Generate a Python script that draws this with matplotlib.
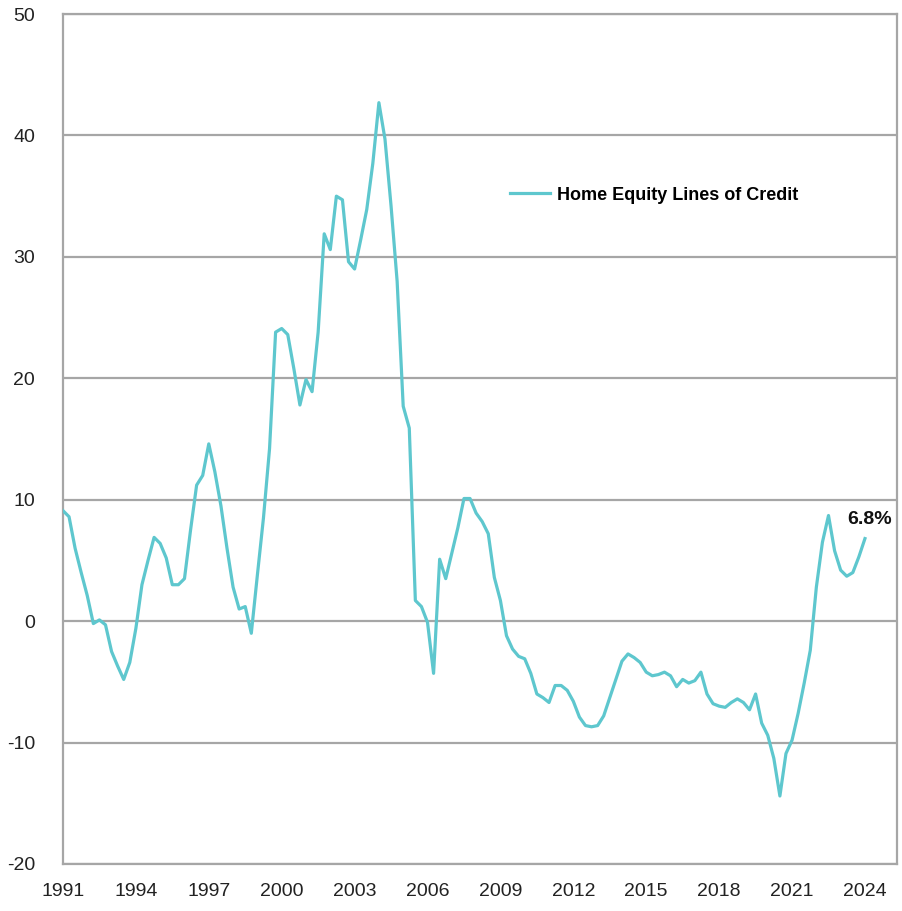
import numpy as np
import matplotlib
matplotlib.use("Agg")
import matplotlib.pyplot as plt

plt.rcParams['font.family'] = ['Liberation Sans Narrow', 'Liberation Sans', 'DejaVu Sans']

start_year = 1991.0
values = [
    9.1, 8.6, 6.0, 4.0,        # 1991
    2.1, -0.2, 0.1, -0.3,      # 1992
    -2.5, -3.7, -4.8, -3.4,    # 1993
    -0.6, 3.0, 5.0, 6.9,       # 1994
    6.4, 5.2, 3.0, 3.0,        # 1995
    3.5, 7.5, 11.2, 12.0,      # 1996
    14.6, 12.3, 9.5, 6.0,      # 1997
    2.8, 1.0, 1.2, -1.0,       # 1998
    3.8, 8.5, 14.2, 23.8,      # 1999
    24.1, 23.6, 20.8, 17.8,    # 2000
    19.9, 18.9, 23.8, 31.9,    # 2001
    30.6, 35.0, 34.7, 29.6,    # 2002
    29.0, 31.4, 33.9, 37.7,    # 2003
    42.7, 39.7, 34.2, 28.0,    # 2004
    17.7, 15.9, 1.7, 1.2,      # 2005
    -0.1, -4.3, 5.1, 3.5,      # 2006
    5.6, 7.7, 10.1, 10.1,      # 2007
    8.9, 8.2, 7.2, 3.6,        # 2008
    1.7, -1.2, -2.3, -2.9,     # 2009
    -3.1, -4.3, -6.0, -6.3,    # 2010
    -6.7, -5.3, -5.3, -5.7,    # 2011
    -6.6, -7.9, -8.6, -8.7,    # 2012
    -8.6, -7.8, -6.3, -4.8,    # 2013
    -3.3, -2.7, -3.0, -3.4,    # 2014
    -4.2, -4.5, -4.4, -4.2,    # 2015
    -4.5, -5.4, -4.8, -5.1,    # 2016
    -4.9, -4.2, -6.0, -6.8,    # 2017
    -7.0, -7.1, -6.7, -6.4,    # 2018
    -6.7, -7.3, -6.0, -8.4,    # 2019
    -9.4, -11.3, -14.4, -10.9, # 2020
    -9.8, -7.6, -5.1, -2.4,    # 2021
    2.8, 6.5, 8.7, 5.8,        # 2022
    4.2, 3.7, 4.0, 5.3,        # 2023
    6.8,                       # 2024
]
series_label = "Home Equity Lines of Credit"
last_label = "6.8%"
x_ticks = list(range(1991, 2025, 3))
y_ticks = [-20, -10, 0, 10, 20, 30, 40, 50]

dates = start_year + 0.25 * np.arange(len(values))

fig = plt.figure(figsize=(9.02, 9.11), dpi=100)
ax = fig.add_axes([0.0698, 0.0516, 0.9247, 0.933])

line_color = '#5EC7CE'
grid_color = '#A6A6A6'

ax.plot(dates, values, color=line_color, lw=2.3, label=series_label, zorder=3)

ax.set_xlim(1991, 2025.32)
ax.set_ylim(-20, 50)
ax.set_xticks(x_ticks)
ax.set_yticks(y_ticks)
ax.set_xticklabels([str(t) for t in x_ticks])
ax.set_yticklabels([str(t) for t in y_ticks])
ax.tick_params(axis='both', length=0, labelsize=14, colors='#222222')
ax.tick_params(axis='y', pad=20)
ax.tick_params(axis='x', pad=14)

ax.yaxis.grid(True, color=grid_color, lw=1.6)
ax.xaxis.grid(False)
ax.set_axisbelow(True)
for s in ax.spines.values():
    s.set_color(grid_color)
    s.set_linewidth(1.6)

leg = ax.legend(loc='upper left', bbox_to_anchor=(0.517, 0.816), frameon=False,
                prop={'weight': 'bold', 'size': 13}, handlelength=2.2,
                handletextpad=0.4)

ax.annotate(last_label, xy=(dates[-1], values[-1]), xytext=(3.6, 14),
            textcoords='offset points', ha='center', va='center',
            fontsize=14, fontweight='bold', color='#111111')

fig.savefig('out.png', dpi=100)
